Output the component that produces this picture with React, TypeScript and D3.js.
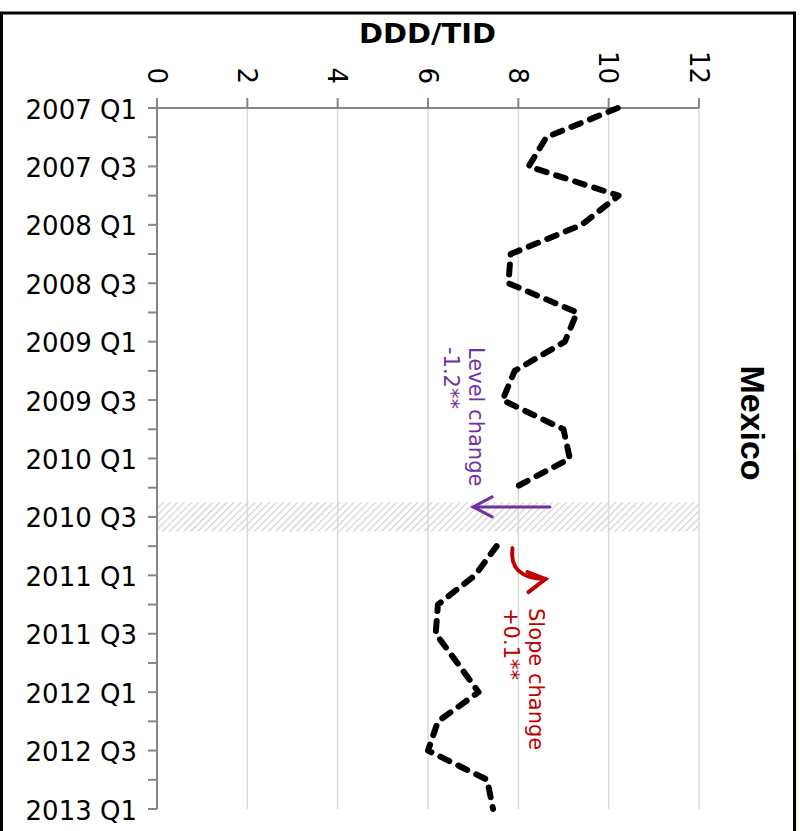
import * as d3 from 'd3';
import React from 'react';

// quarters on the vertical axis, top to bottom
const quarters = [
  '2007 Q1', '2007 Q2', '2007 Q3', '2007 Q4',
  '2008 Q1', '2008 Q2', '2008 Q3', '2008 Q4',
  '2009 Q1', '2009 Q2', '2009 Q3', '2009 Q4',
  '2010 Q1', '2010 Q2', '2010 Q3', '2010 Q4',
  '2011 Q1', '2011 Q2', '2011 Q3', '2011 Q4',
  '2012 Q1', '2012 Q2', '2012 Q3', '2012 Q4',
  '2013 Q1',
];

// DDD/TID per quarter (2010 Q3 = intervention, no value)
const dddValues: (number | null)[] = [
  10.2, 8.62, 8.23, 10.22,
  9.4, 7.83, 7.78, 9.3,
  9.03, 7.92, 7.65, 9.0,
  9.14, 7.92, null, 7.52,
  7.04, 6.22, 6.17, 6.65,
  7.12, 6.22, 6.0, 7.31,
  7.44,
];

const xTicks = [0, 2, 4, 6, 8, 10, 12];
const interventionQuarter = '2010 Q3';
const levelChange = ['Level change', '-1.2**'];
const slopeChange = ['Slope change', '+0.1**'];

const W = 800;
const H = 831;
const AXIS = '#868686';
const GRID = '#d9d9d9';
const PURPLE = '#7030a0';
const RED = '#c00000';

export default function App() {
  const x = d3.scaleLinear().domain([0, 12]).range([157, 699]);
  const y = d3.scalePoint<string>().domain(quarters).range([108, 809]);
  const step = y.step();

  const rows = quarters.map((q, i) => ({ q, v: dddValues[i] }));
  const line = d3
    .line<{ q: string; v: number | null }>()
    .defined(d => d.v != null)
    .x(d => x(d.v as number))
    .y(d => y(d.q) as number);

  const yTop = y(quarters[0]) as number;
  const yBot = y(quarters[quarters.length - 1]) as number;
  const yInt = y(interventionQuarter) as number;
  const yNext = y('2010 Q4') as number;

  // level arrow
  const lvY = yInt - 10;
  const lvX0 = x(8.7);
  const lvX1 = x(7.0);

  // slope arrow
  const sx0 = x(7.87);
  const sTipX = x(8.6);
  const sTipY = yNext + 33;

  return (
    <svg
      width={W}
      height={H}
      style={{ position: 'absolute', left: 0, top: 0, background: '#fff' }}
      fontFamily="'DejaVu Sans', Verdana, sans-serif"
    >
      <defs>
        <pattern id="hatch" patternUnits="userSpaceOnUse" width={5} height={5} patternTransform="rotate(45)">
          <rect width={5} height={5} fill="#fff" />
          <line x1={0} y1={0} x2={0} y2={5} stroke="#d0d0d0" strokeWidth={2.4} />
        </pattern>
      </defs>

      {/* outer frame */}
      <rect x={1.5} y={13} width={793} height={H + 20} fill="none" stroke="#000" strokeWidth={3} />
      <line x1={797} x2={797} y1={450} y2={H} stroke="#fdf3dc" strokeWidth={2} />

      {/* intervention band */}
      <rect x={x(0)} y={yInt - step / 2} width={x(12) - x(0)} height={step} fill="url(#hatch)" />

      {/* gridlines */}
      {xTicks.slice(1).map(t => (
        <line key={t} x1={x(t)} x2={x(t)} y1={yTop} y2={yBot} stroke={GRID} strokeWidth={1.5} />
      ))}

      {/* top axis */}
      <line x1={x(0)} x2={x(12)} y1={yTop} y2={yTop} stroke={AXIS} strokeWidth={2} />
      {xTicks.map(t => (
        <g key={t}>
          <line x1={x(t)} x2={x(t)} y1={yTop - 10} y2={yTop} stroke={AXIS} strokeWidth={2} />
          <text
            transform={`translate(${x(t) - 9.5},84) rotate(90)`}
            textAnchor="end"
            fontSize={26}
            fill="#000"
          >
            {t}
          </text>
        </g>
      ))}
      <text x={359} y={43} fontSize={26} fontWeight="bold" textLength={137} lengthAdjust="spacingAndGlyphs">
        DDD/TID
      </text>

      {/* left axis */}
      <line x1={x(0)} x2={x(0)} y1={yTop - 10} y2={yBot} stroke={AXIS} strokeWidth={2} />
      {quarters.map((q, i) => (
        <g key={q}>
          <line x1={x(0) - 9} x2={x(0)} y1={y(q)} y2={y(q)} stroke={AXIS} strokeWidth={2} />
          {i % 2 === 0 && (
            <text x={137} y={(y(q) as number) + 10.5} textAnchor="end" fontSize={26} fill="#000">
              {q}
            </text>
          )}
        </g>
      ))}

      {/* series */}
      <path
        d={line(rows) ?? ''}
        fill="none"
        stroke="#000"
        strokeWidth={6}
        strokeDasharray="10 10"
        strokeLinecap="round"
        strokeLinejoin="round"
      />

      {/* level change annotation */}
      <g stroke={PURPLE} strokeWidth={3} fill="none" strokeLinecap="round">
        <line x1={lvX0} x2={lvX1} y1={lvY} y2={lvY} />
        <path d={`M${lvX1 + 19},${lvY - 10} L${lvX1},${lvY} L${lvX1 + 19},${lvY + 10}`} />
      </g>
      {levelChange.map((s, i) => (
        <text
          key={s}
          transform={`translate(${469 - i * 25},347) rotate(90)`}
          fontSize={21}
          fill={PURPLE}
        >
          {s}
        </text>
      ))}

      {/* slope change annotation */}
      <g stroke={RED} strokeWidth={4} fill="none" strokeLinecap="round">
        <path d={`M${sx0},${yNext + 2} Q${sx0 - 4},${yNext + 32} ${sTipX},${sTipY}`} />
        <path d={`M${sTipX - 18},${sTipY - 7} L${sTipX},${sTipY} L${sTipX - 17},${sTipY + 13}`} />
      </g>
      {slopeChange.map((s, i) => (
        <text
          key={s}
          transform={`translate(${529 - i * 25},608) rotate(90)`}
          fontSize={21}
          fill={RED}
        >
          {s}
        </text>
      ))}

      {/* panel label */}
      <text
        transform="translate(741,423) rotate(90)"
        textAnchor="middle"
        fontFamily="'Liberation Sans', Arial, sans-serif"
        fontWeight="bold"
        fontSize={34}
        fill="#000"
      >
        Mexico
      </text>
    </svg>
  );
}
